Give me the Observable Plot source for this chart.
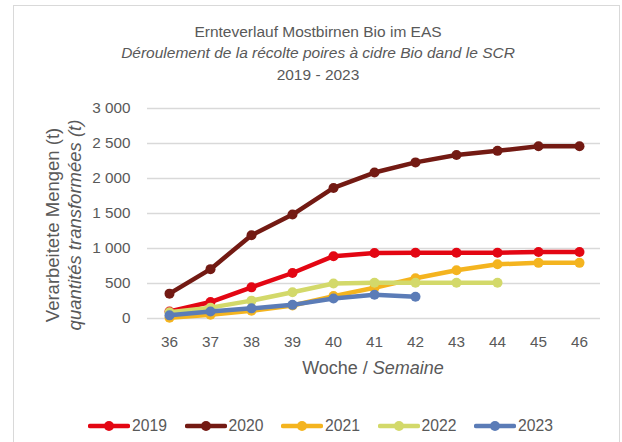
<!DOCTYPE html>
<html><head><meta charset="utf-8">
<script src="https://cdn.jsdelivr.net/npm/d3@7"></script>
<script src="https://cdn.jsdelivr.net/npm/@observablehq/plot@0.6"></script>
<style>
body{margin:0;background:#fff;font-family:"Liberation Sans",Arial,sans-serif;color:#595959}
#wrap{position:relative;width:622px;height:442px;overflow:hidden;background:#fff}
#frame{position:absolute;left:13px;top:5px;width:607px;height:470px;border:1px solid #d9d9d9;box-sizing:border-box}
.t{position:absolute;left:0;width:636px;text-align:center;font-size:15.5px;line-height:1;white-space:nowrap;transform:translateY(-50%)}
.yt{position:absolute;white-space:nowrap;font-size:18.5px;line-height:1;transform:translate(-50%,-50%) rotate(-90deg)}
#xt{position:absolute;left:373px;top:368px;white-space:nowrap;font-size:18px;line-height:1;transform:translate(-50%,-50%)}
#chart{position:absolute;left:0;top:90px}
.lg{position:absolute;top:426px;height:0}
.lg svg{position:absolute;left:0;top:-8px}
.lg span{position:absolute;left:44px;top:0;transform:translateY(-50%);font-size:15.7px;line-height:1}
</style></head>
<body>
<div id="wrap">
  <div id="frame"></div>
  <div class="t" style="top:32px">Ernteverlauf Mostbirnen Bio im EAS</div>
  <div class="t" style="top:53px;font-style:italic">Déroulement de la récolte poires à cidre Bio dand le SCR</div>
  <div class="t" style="top:75px">2019 - 2023</div>
  <div class="yt" style="left:53px;top:225px">Verarbeitete Mengen (t)</div>
  <div class="yt" style="left:75px;top:225px;font-style:italic">quantités transformées (t)</div>
  <div id="xt">Woche / <i>Semaine</i></div>
  <div id="chart"></div>
  <div id="legend"></div>
</div>
<script>
const weeks = [36, 37, 38, 39, 40, 41, 42, 43, 44, 45, 46];
const years = ["2019", "2020", "2021", "2022", "2023"];
const colors = ["#E30613", "#731A13", "#F4B41F", "#D3D96A", "#5B7CB7"];
const yTicks = [0, 500, 1000, 1500, 2000, 2500, 3000];
const v2019 = [100, 235, 445, 650, 890, 935, 940, 940, 940, 950, 950];
const v2020 = [355, 705, 1190, 1485, 1865, 2085, 2230, 2335, 2395, 2460, 2460];
const v2021 = [10, 55, 110, 185, 320, 440, 575, 690, 775, 795, 795];
const v2022 = [90, 155, 255, 375, 500, 510, 510, 510, 510];
const v2023 = [45, 100, 145, 195, 285, 340, 310];
const series = [v2019, v2020, v2021, v2022, v2023];

const rows = [];
series.forEach((vals, i) => vals.forEach((v, j) => rows.push({year: years[i], week: weeks[j], value: v})));

const fmt = d3.formatLocale({decimal: ",", thousands: "\u00a0", grouping: [3]}).format(",");

const marks = [
  Plot.gridY(yTicks, {stroke: "#d9d9d9", strokeOpacity: 1, strokeWidth: 1.3}),
  Plot.axisY(yTicks, {tickSize: 0, tickPadding: 17, tickFormat: fmt, fontSize: 15.3, fill: "#595959"}),
  Plot.axisX(weeks, {tickSize: 0, tickPadding: 18, fontSize: 15.3, fill: "#595959"})
];
years.forEach(y => {
  const d = rows.filter(r => r.year === y);
  marks.push(Plot.line(d, {x: "week", y: "value", stroke: "year", strokeWidth: 4.5, strokeLinejoin: "round", strokeLinecap: "round"}));
  marks.push(Plot.dot(d, {x: "week", y: "value", fill: "year", r: 5}));
});

const chart = Plot.plot({
  width: 622, height: 300,
  marginLeft: 147, marginRight: 22, marginTop: 18, marginBottom: 72,
  style: {fontFamily: "Liberation Sans, Arial, sans-serif", color: "#595959", background: "transparent"},
  x: {type: "point", domain: weeks, padding: 0.5, label: null},
  y: {domain: [0, 3000], label: null},
  color: {domain: years, range: colors},
  marks
});
document.getElementById("chart").appendChild(chart);

const lg = document.getElementById("legend");
years.forEach((y, i) => {
  const it = document.createElement("div");
  it.className = "lg";
  it.style.left = (88 + 96.5 * i) + "px";
  it.innerHTML = `<svg width="42" height="16"><line x1="2" x2="40" y1="8" y2="8" stroke="${colors[i]}" stroke-width="4.5" stroke-linecap="round"/><circle cx="21" cy="8" r="5" fill="${colors[i]}"/></svg><span>${y}</span>`;
  lg.appendChild(it);
});
</script>
</body></html>
